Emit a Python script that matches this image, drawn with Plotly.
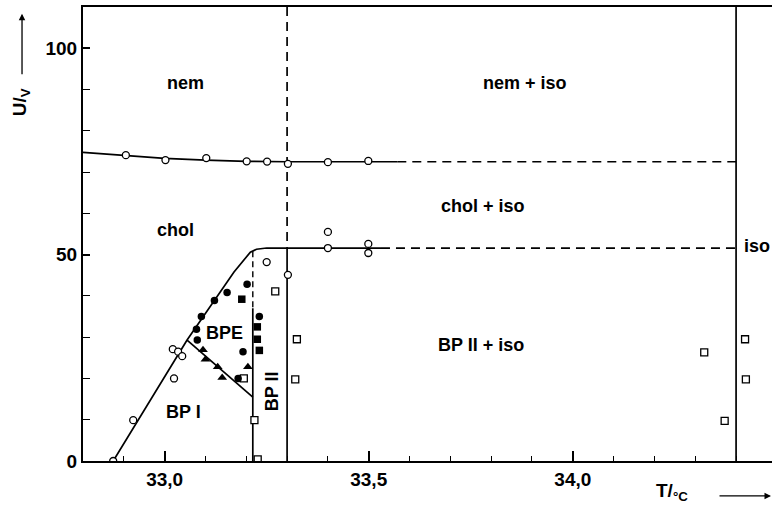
import plotly.graph_objects as go

# ---- axis ranges / ticks ----
x_range = [32.80, 34.488]
y_range = [0, 110]
x_tickvals = [33.0, 33.5, 34.0]
x_ticktext = ["33,0", "33,5", "34,0"]
y_tickvals = [0, 50, 100]
y_ticktext = ["0", "50", "100"]

# ---- phase boundary lines ----
nem_line_x = [32.80, 32.90, 33.00, 33.10, 33.20, 33.30, 33.57]
nem_line_y = [74.8, 74.0, 73.3, 72.9, 72.6, 72.5, 72.5]
nem_dash_x = [33.57, 34.40]
nem_dash_y = [72.5, 72.5]

chol_line_x = [32.874, 33.055, 33.17, 33.21, 33.225, 33.25, 33.53]
chol_line_y = [0.0, 29.3, 45.8, 50.6, 51.3, 51.6, 51.6]
chol_dash_x = [33.53, 34.40]
chol_dash_y = [51.6, 51.6]

bpe_line_x = [33.055, 33.216]
bpe_line_y = [29.3, 15.5]

bp1_dash_x = [33.216, 33.216]
bp1_dash_y = [50.8, 37.0]
bp1_solid_x = [33.216, 33.216]
bp1_solid_y = [37.0, 0.0]

bp2_dash_x = [33.30, 33.30]
bp2_dash_y = [110, 51.6]
bp2_solid_x = [33.30, 33.30]
bp2_solid_y = [51.6, 0.0]

iso_line_x = [34.40, 34.40]
iso_line_y = [0.0, 110]

# ---- measured points ----
open_circle_x = [32.905, 33.002, 33.102, 33.201, 33.251, 33.302, 33.40, 33.499,
                 32.874, 32.923, 33.02, 33.033, 33.043, 33.023,
                 33.250, 33.302, 33.40, 33.40, 33.499, 33.499]
open_circle_y = [74.1, 72.9, 73.4, 72.6, 72.55, 72.0, 72.4, 72.7,
                 0.0, 9.9, 27.1, 26.5, 25.4, 20.0,
                 48.2, 45.1, 55.5, 51.6, 52.6, 50.4]

filled_circle_x = [33.202, 33.153, 33.122, 33.090, 33.078, 33.080, 33.192, 33.232, 33.180]
filled_circle_y = [42.8, 40.8, 38.9, 35.0, 31.9, 29.3, 26.5, 35.0, 20.0]

filled_square_x = [33.189, 33.227, 33.227, 33.232]
filled_square_y = [39.2, 32.5, 29.5, 26.8]

filled_triangle_x = [33.094, 33.100, 33.130, 33.141, 33.204]
filled_triangle_y = [26.9, 24.6, 22.8, 20.2, 22.8]

open_square_x = [33.271, 33.324, 33.320, 33.220, 33.228, 33.194,
                 34.322, 34.422, 34.424, 34.372]
open_square_y = [41.1, 29.5, 19.8, 9.9, 0.4, 20.0,
                 26.3, 29.5, 19.8, 9.7]

# ---- region labels ----
label_text = ["nem", "nem + iso", "chol", "chol + iso", "iso", "BPE", "BP I", "BP II + iso"]
label_x = [33.05, 33.882, 33.026, 33.78, 34.452, 33.146, 33.046, 33.774]
label_y = [91.5, 91.7, 56.0, 61.8, 52.2, 31.0, 11.8, 28.0]

FONT = "Liberation Sans"

fig = go.Figure()

solid = dict(color="black", width=1.7)
dashed = dict(color="black", width=1.7, dash="9px,6px")

for xs, ys, ln in [
    (nem_line_x, nem_line_y, solid),
    (nem_dash_x, nem_dash_y, dashed),
    (chol_line_x, chol_line_y, solid),
    (chol_dash_x, chol_dash_y, dashed),
    (bpe_line_x, bpe_line_y, solid),
    (bp1_dash_x, bp1_dash_y, dict(color="black", width=1.4, dash="6px,4px")),
    (bp1_solid_x, bp1_solid_y, solid),
    (bp2_dash_x, bp2_dash_y, dashed),
    (bp2_solid_x, bp2_solid_y, solid),
    (iso_line_x, iso_line_y, solid),
]:
    fig.add_trace(go.Scatter(x=xs, y=ys, mode="lines", line=ln,
                             hoverinfo="skip", showlegend=False))

fig.add_trace(go.Scatter(x=open_circle_x, y=open_circle_y, mode="markers",
                         marker=dict(symbol="circle", size=7, color="white",
                                     line=dict(color="black", width=1.3)),
                         showlegend=False))
fig.add_trace(go.Scatter(x=open_square_x, y=open_square_y, mode="markers",
                         marker=dict(symbol="square", size=7, color="white",
                                     line=dict(color="black", width=1.3)),
                         showlegend=False))
fig.add_trace(go.Scatter(x=filled_circle_x, y=filled_circle_y, mode="markers",
                         marker=dict(symbol="circle", size=7.5, color="black"),
                         showlegend=False))
fig.add_trace(go.Scatter(x=filled_square_x, y=filled_square_y, mode="markers",
                         marker=dict(symbol="square", size=7.5, color="black"),
                         showlegend=False))
fig.add_trace(go.Scatter(x=filled_triangle_x, y=filled_triangle_y, mode="markers",
                         marker=dict(symbol="triangle-up", size=8.5, color="black"),
                         showlegend=False))

for t, x, y in zip(label_text, label_x, label_y):
    fig.add_annotation(x=x, y=y, text=t, showarrow=False,
                       font=dict(family=FONT, size=18, color="black", weight="bold"))

fig.add_annotation(x=33.263, y=16.9, text="BP II", showarrow=False, textangle=-90,
                   font=dict(family=FONT, size=18, color="black", weight="bold"))

# axis titles with arrows
fig.add_annotation(xref="paper", yref="paper", x=0.881, y=-0.10, text="T/<sub>°C</sub>",
                   showarrow=False, font=dict(family=FONT, size=19, color="black", weight="bold"))
fig.add_annotation(xref="paper", yref="paper", x=1.0, y=-0.077, ax=-54, ay=0,
                   text="", showarrow=True, arrowhead=2, arrowsize=1, arrowwidth=1.3,
                   arrowcolor="black")
fig.add_annotation(xref="paper", yref="paper", x=-0.110, y=0.826, text="U/<sub>V</sub>",
                   textangle=-90, showarrow=False,
                   font=dict(family=FONT, size=19, color="black", weight="bold"))
fig.add_annotation(xref="paper", yref="paper", x=-0.0885, y=0.985, ax=0, ay=62,
                   text="", showarrow=True, arrowhead=2, arrowsize=1, arrowwidth=1.3,
                   arrowcolor="black")

tickfont = dict(family=FONT, size=19, color="black", weight="bold")

fig.update_layout(
    width=772, height=517,
    margin=dict(l=83, r=0, t=7, b=56),
    paper_bgcolor="white", plot_bgcolor="white",
    showlegend=False,
    xaxis=dict(range=x_range, tickmode="array", tickvals=x_tickvals, ticktext=x_ticktext,
               ticks="inside", ticklen=10, tickwidth=1.6, tickcolor="black",
               showgrid=False, zeroline=False, showline=True, linecolor="black",
               linewidth=2, mirror=True, tickfont=tickfont,
               minor=dict(tickmode="linear", tick0=33.0, dtick=0.1, ticks="inside",
                          ticklen=5, tickwidth=1.4, tickcolor="black", showgrid=False)),
    yaxis=dict(range=y_range, tickmode="array", tickvals=y_tickvals, ticktext=y_ticktext,
               ticks="inside", ticklen=7, tickwidth=1.6, tickcolor="black",
               showgrid=False, zeroline=False, showline=True, linecolor="black",
               linewidth=2, tickfont=tickfont,
               minor=dict(tickmode="linear", tick0=0, dtick=10, ticks="inside",
                          ticklen=7, tickwidth=1.4, tickcolor="black", showgrid=False)),
)

fig.write_html("out.html", config={"displayModeBar": False},
               post_script="document.body.style.margin='0';")
